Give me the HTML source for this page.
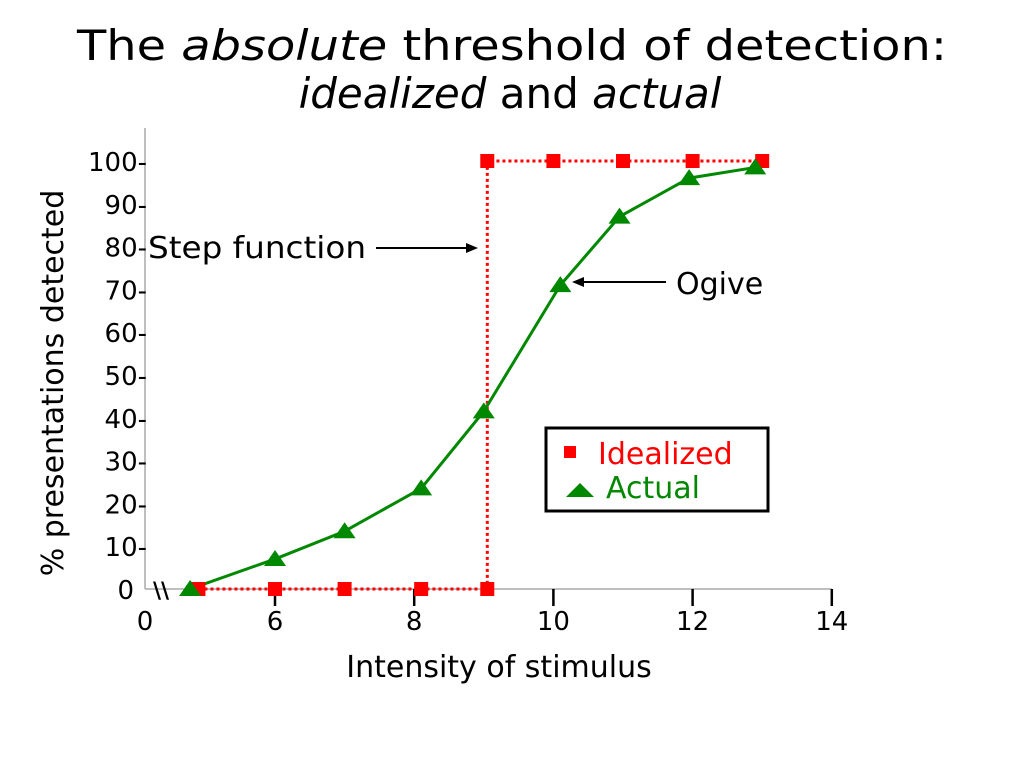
<!DOCTYPE html>
<html><head><meta charset="utf-8"><style>
html,body{margin:0;padding:0;background:#fff;}
svg{display:block;font-family:"DejaVu Sans","Liberation Sans",sans-serif;}
</style></head><body>
<svg id="chart" width="1024" height="768" viewBox="0 0 1024 768" xmlns="http://www.w3.org/2000/svg">
<text x="512" y="60" text-anchor="middle" font-size="42" textLength="870" lengthAdjust="spacingAndGlyphs">The <tspan font-style="italic">absolute</tspan> threshold of detection:</text>
<text x="510" y="108" text-anchor="middle" font-size="42">  <tspan font-style="italic">idealized</tspan>  and <tspan font-style="italic">actual</tspan></text>
<g id="axes"></g>
<g id="marks"></g>
<text x="499" y="677" text-anchor="middle" font-size="30">Intensity of stimulus</text>
<text transform="translate(63,383) rotate(-90)" text-anchor="middle" font-size="30">% presentations detected</text>
<text x="148" y="258" font-size="30" textLength="218" lengthAdjust="spacingAndGlyphs">Step function</text>
<line x1="376" y1="248" x2="470" y2="248" stroke="#000" stroke-width="2"/>
<polygon points="478,248 466,243 466,253" fill="#000"/>
<text x="676" y="294" font-size="30">Ogive</text>
<line x1="666" y1="282" x2="580" y2="282" stroke="#000" stroke-width="2"/>
<polygon points="572,282 584,277 584,287" fill="#000"/>
<g>
<rect x="546" y="428" width="222" height="83" fill="#fff" stroke="#000" stroke-width="3"/>
<rect x="564" y="446" width="12" height="12" fill="#f00"/>
<text x="598" y="464" font-size="30" fill="#f00">Idealized</text>
<polygon points="580,483 566,497 594,497" fill="#080"/>
<text x="606" y="498" font-size="30" fill="#080">Actual</text>
</g>
</svg>
<script>
const idealX=[4.9,6,7,8.1,9.05,9.05,10,11,12,13];
const idealY=[0,0,0,0,0,100,100,100,100,100];
const actualX=[4.78,6,7,8.1,9,10.1,10.95,11.95,12.9];
const actualY=[0,7,13.5,23.5,41.5,71,87,96,98.5];
const xTicks=[6,8,10,12,14];
const yTicks=[0,10,20,30,40,50,60,70,80,90,100];
const NS="http://www.w3.org/2000/svg";
function xs(v){return 275+(v-6)*69.6;}
function ys(v){return 589-v*4.28;}
function mk(tag,attrs,parent){const e=document.createElementNS(NS,tag);for(const k in attrs)e.setAttribute(k,attrs[k]);parent.appendChild(e);return e;}
const ax=document.getElementById('axes'),mg=document.getElementById('marks');
let e=mk('line',{x1:145,y1:128,x2:145,y2:589,stroke:'#aaa','stroke-width':1.5},ax);

e=mk('line',{x1:145,y1:589,x2:xs(14),y2:589,stroke:'#aaa','stroke-width':1.5},ax);

e=mk('text',{x:145,y:630,'text-anchor':'middle','font-size':26},ax);e.textContent='0';

e=mk('text',{x:153,y:598,'font-size':22,'font-weight':'bold'},ax);e.textContent='\\\\';

xTicks.forEach(t=>{
 let l=mk('line',{x1:xs(t),y1:589,x2:xs(t),y2:606,stroke:'#000','stroke-width':2.5},ax);
 
 let tx=mk('text',{x:xs(t),y:630,'text-anchor':'middle','font-size':26},ax);tx.textContent=t;
 
});
yTicks.forEach(t=>{
 let tx=mk('text',{x:t===0?134:147,y:ys(t)+10,'text-anchor':'end','font-size':26},ax);tx.textContent=t===0?'0':t+'-';
 
});
let p=mk('polyline',{points:idealX.map((x,i)=>xs(x)+','+ys(idealY[i])).join(' '),fill:'none',stroke:'#f00','stroke-width':3,'stroke-dasharray':'3,3'},mg);

p=mk('polyline',{points:actualX.map((x,i)=>xs(x)+','+ys(actualY[i])).join(' '),fill:'none',stroke:'#080','stroke-width':3},mg);

idealX.forEach((x,i)=>{
 let r=mk('rect',{x:xs(x)-7,y:ys(idealY[i])-7,width:14,height:14,fill:'#f00'},mg);
 
});
actualX.forEach((x,i)=>{
 const cx=xs(x),cy=ys(actualY[i]);
 let t=mk('polygon',{points:(cx)+','+(cy-9)+' '+(cx-11)+','+(cy+7)+' '+(cx+11)+','+(cy+7),fill:'#080'},mg);
 
});
</script>
</body></html>
